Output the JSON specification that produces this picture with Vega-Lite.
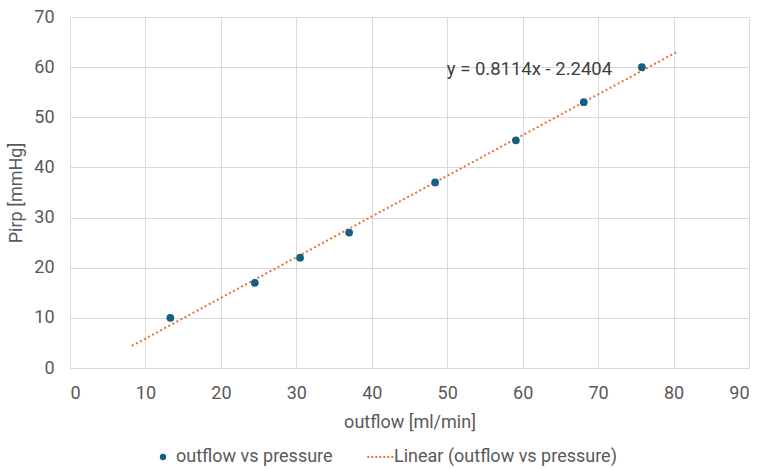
{
  "$schema": "https://vega.github.io/schema/vega-lite/v6.json",
  "autosize": "none",
  "width": 679,
  "height": 351,
  "padding": {"left": 70, "top": 17, "right": 10, "bottom": 101},
  "background": "white",
  "config": {
    "font": "Roboto",
    "view": {"stroke": null},
    "axis": {
      "labelFont": "Roboto", "labelFontSize": 18, "labelColor": "#595959",
      "titleFont": "Roboto", "titleFontSize": 18, "titleColor": "#595959", "titleFontWeight": "normal",
      "gridColor": "#D9D9D9", "gridWidth": 1, "ticks": false, "domain": false
    },
    "legend": {"labelFont": "Roboto", "labelFontSize": 18, "labelColor": "#595959", "labelLimit": 400}
  },
  "datasets": {
    "pts": [
      {"outflow": 13.3, "pressure": 10, "series": "outflow vs pressure"},
      {"outflow": 24.5, "pressure": 17, "series": "outflow vs pressure"},
      {"outflow": 30.5, "pressure": 22, "series": "outflow vs pressure"},
      {"outflow": 37.0, "pressure": 27, "series": "outflow vs pressure"},
      {"outflow": 48.4, "pressure": 37, "series": "outflow vs pressure"},
      {"outflow": 59.1, "pressure": 45.4, "series": "outflow vs pressure"},
      {"outflow": 68.1, "pressure": 53, "series": "outflow vs pressure"},
      {"outflow": 75.8, "pressure": 60, "series": "outflow vs pressure"}
    ],
    "trend": [
      {"outflow": 8.2, "pressure": 4.41, "series": "Linear (outflow vs pressure)"},
      {"outflow": 80.5, "pressure": 63.08, "series": "Linear (outflow vs pressure)"}
    ],
    "eq": [
      {"outflow": 60.9, "pressure": 59.6, "label": "y = 0.8114x - 2.2404"}
    ]
  },
  "layer": [
    {
      "data": {"name": "trend"},
      "mark": {"type": "line", "strokeWidth": 2, "strokeDash": [2, 2.6], "strokeCap": "butt"},
      "encoding": {
        "x": {"field": "outflow", "type": "quantitative", "scale": {"domain": [0, 90], "nice": false}, "axis": {"values": [0,10,20,30,40,50,60,70,80,90], "title": "outflow [ml/min]", "labelPadding": 16, "titlePadding": 11}},
        "y": {"field": "pressure", "type": "quantitative", "scale": {"domain": [0, 70], "nice": false}, "axis": {"values": [0,10,20,30,40,50,60,70], "title": "Pirp [mmHg]", "labelPadding": 16, "titlePadding": 8}},
        "color": {
          "field": "series", "type": "nominal",
          "scale": {"domain": ["outflow vs pressure", "Linear (outflow vs pressure)"], "range": ["#156082", "#E97132"]},
          "legend": {
            "title": null, "orient": "none", "legendX": 84, "legendY": 431, "direction": "horizontal",
            "columnPadding": 30, "labelOffset": 4,
            "encode": {
              "symbols": {
                "update": {
                  "shape": {"signal": "datum.value === 'outflow vs pressure' ? 'circle' : 'stroke'"},
                  "fill": {"signal": "datum.value === 'outflow vs pressure' ? '#156082' : 'transparent'"},
                  "stroke": {"signal": "datum.value === 'outflow vs pressure' ? '#156082' : '#E97132'"},
                  "strokeDash": {"signal": "datum.value === 'outflow vs pressure' ? [] : [2, 2]"},
                  "strokeWidth": {"signal": "datum.value === 'outflow vs pressure' ? 0 : 2"},
                  "size": {"signal": "datum.value === 'outflow vs pressure' ? 40 : 750"}
                }
              }
            }
          }
        }
      }
    },
    {
      "data": {"name": "pts"},
      "mark": {"type": "point", "filled": true, "size": 60, "opacity": 1},
      "encoding": {
        "x": {"field": "outflow", "type": "quantitative"},
        "y": {"field": "pressure", "type": "quantitative"},
        "color": {"field": "series", "type": "nominal"}
      }
    },
    {
      "data": {"name": "eq"},
      "mark": {"type": "text", "fontSize": 18.5, "color": "#404040", "font": "Roboto"},
      "encoding": {
        "x": {"field": "outflow", "type": "quantitative"},
        "y": {"field": "pressure", "type": "quantitative"},
        "text": {"field": "label"}
      }
    }
  ]
}
